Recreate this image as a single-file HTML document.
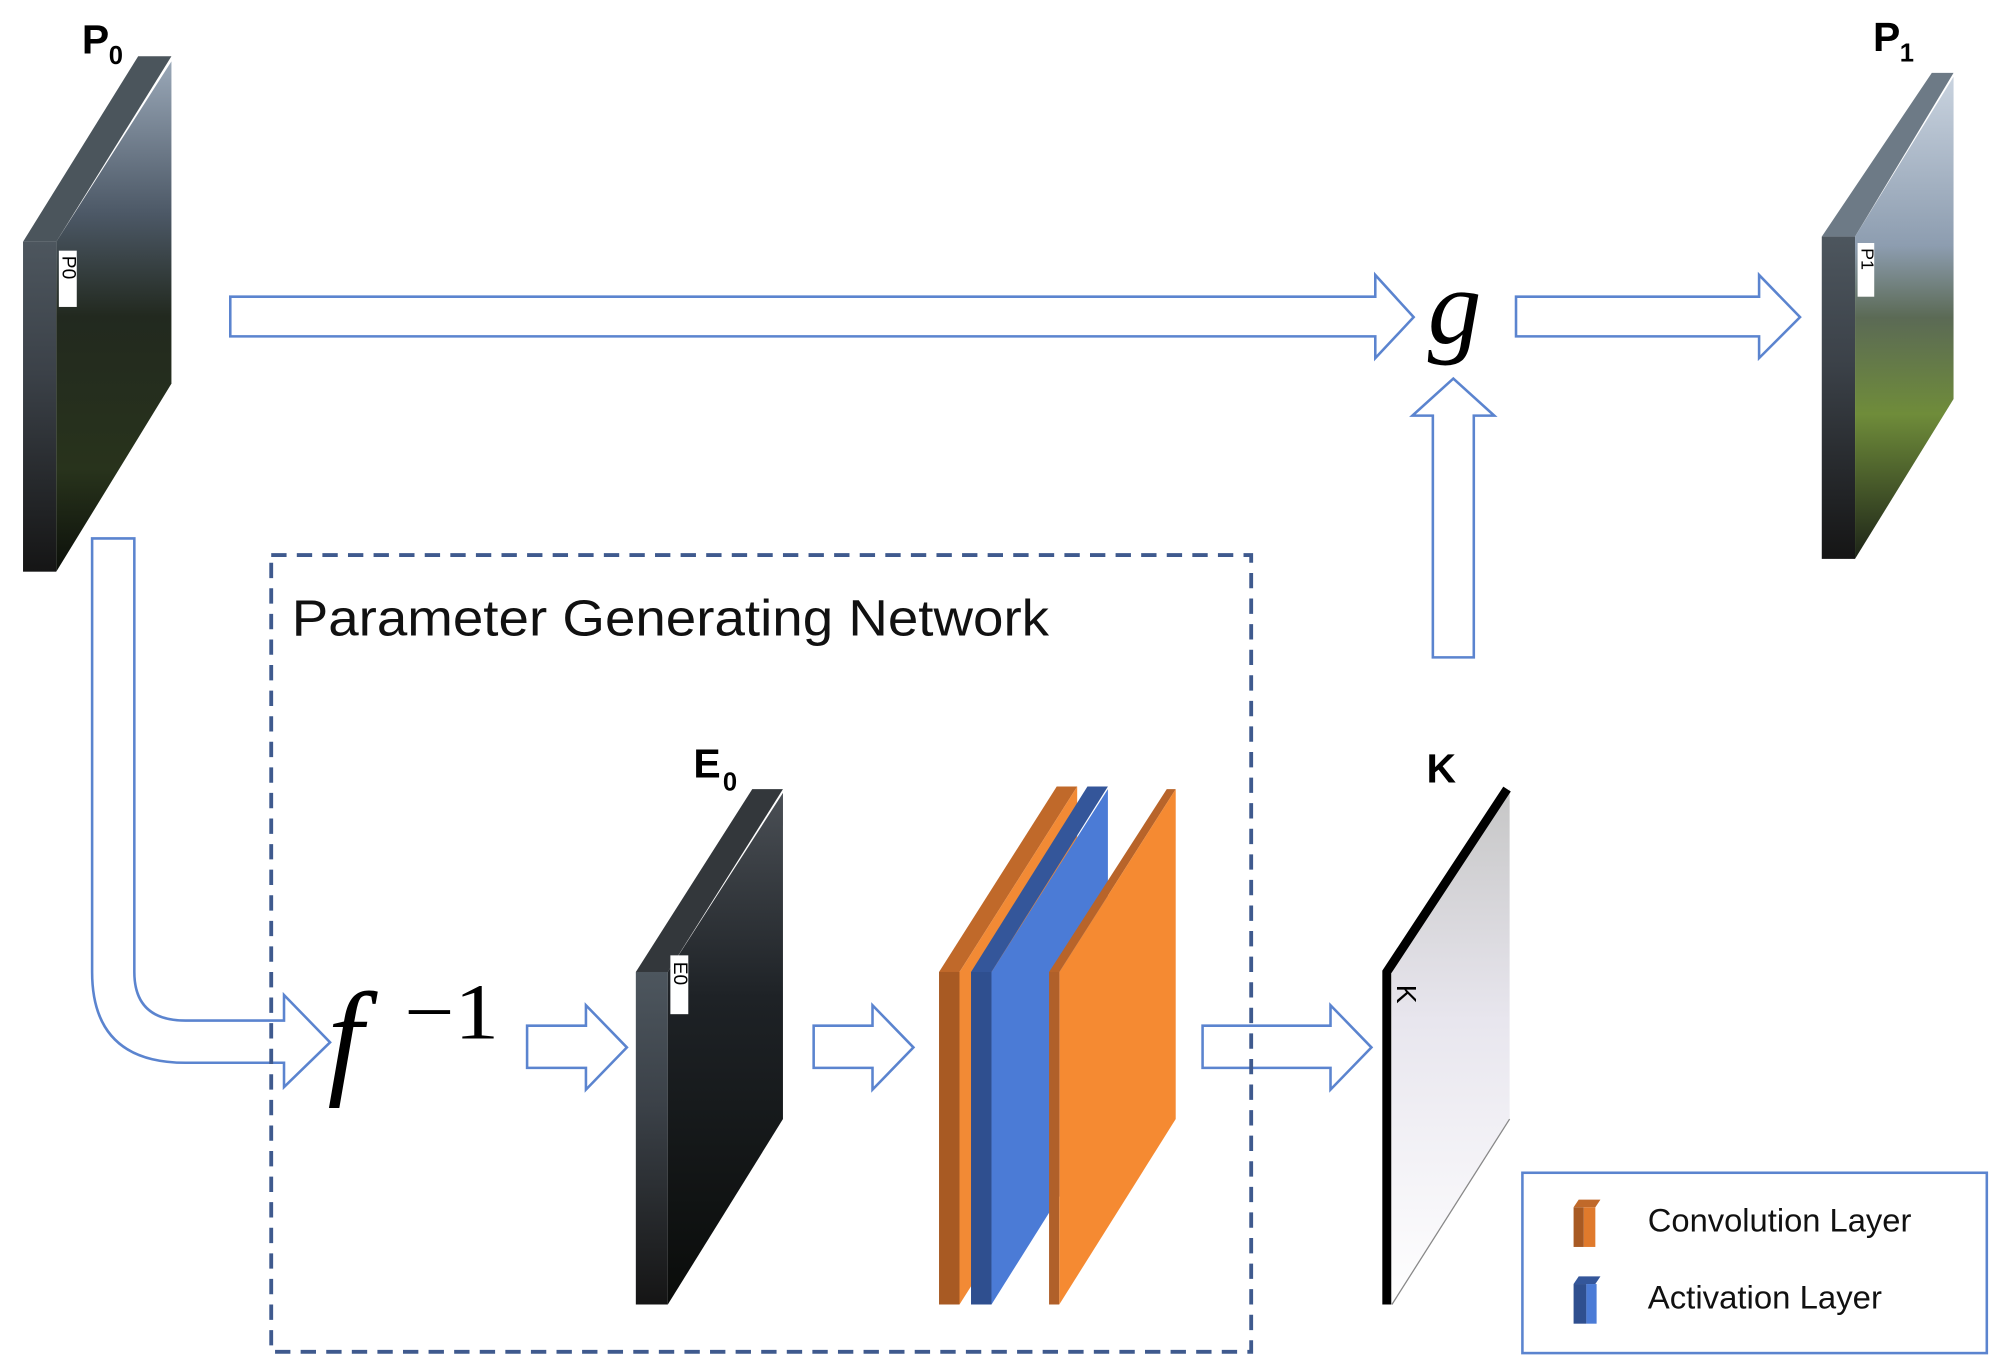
<!DOCTYPE html>
<html><head><meta charset="utf-8"><style>
html,body{margin:0;padding:0;background:#fff;}
svg{display:block}
</style></head><body>
<svg width="2006" height="1371" viewBox="0 0 1568 1072" preserveAspectRatio="none" xmlns="http://www.w3.org/2000/svg">
<defs>
<linearGradient id="p0face" x1="0" y1="0" x2="0" y2="1">
<stop offset="0" stop-color="#9aa8b8"/><stop offset="0.3" stop-color="#4c5866"/><stop offset="0.5" stop-color="#22291f"/><stop offset="0.8" stop-color="#28331c"/><stop offset="1" stop-color="#0c100a"/></linearGradient>
<linearGradient id="p1face" x1="0" y1="0" x2="0" y2="1">
<stop offset="0" stop-color="#c9d3df"/><stop offset="0.35" stop-color="#8d9db0"/><stop offset="0.5" stop-color="#5b6a55"/><stop offset="0.7" stop-color="#6f8c3a"/><stop offset="1" stop-color="#1d2418"/></linearGradient>
<linearGradient id="edge" x1="0" y1="0" x2="0" y2="1">
<stop offset="0" stop-color="#4d565e"/><stop offset="0.4" stop-color="#3b4148"/><stop offset="1" stop-color="#151515"/></linearGradient>
<linearGradient id="e0face" x1="0" y1="0" x2="0" y2="1">
<stop offset="0" stop-color="#4a4f55"/><stop offset="0.4" stop-color="#1e2226"/><stop offset="1" stop-color="#0a0c0a"/></linearGradient>
<linearGradient id="kface" x1="0" y1="0" x2="0" y2="1">
<stop offset="0" stop-color="#c6c6c6"/><stop offset="0.45" stop-color="#e8e6ee"/><stop offset="1" stop-color="#ffffff"/></linearGradient>
</defs>
<g font-family="Liberation Sans, sans-serif">

<!-- P0 slab -->
<polygon points="18,189 108,44 134,44 44,189" fill="#4b555c"/>
<rect x="18" y="189" width="26" height="258" fill="url(#edge)"/>
<polygon points="44,189 134,48 134,300 44,447" fill="url(#p0face)"/>
<rect x="46" y="196" width="14" height="44" fill="#fff"/>
<text font-size="15" transform="translate(49,200) rotate(90)" fill="#000">P0</text>
<text x="64" y="42" font-size="32" font-weight="bold">P</text><text x="85" y="50" font-size="20" font-weight="bold">0</text>

<!-- P1 slab -->
<polygon points="1424,185 1510,57 1527,57 1450,185" fill="#6d7a86"/>
<rect x="1424" y="185" width="26" height="252" fill="url(#edge)"/>
<polygon points="1450,185 1527,60 1527,312 1450,437" fill="url(#p1face)"/>
<rect x="1452" y="190" width="13" height="42" fill="#fff"/>
<text font-size="14" transform="translate(1455,194) rotate(90)" fill="#000">P1</text>
<text x="1464" y="40" font-size="32" font-weight="bold">P</text><text x="1485" y="48" font-size="20" font-weight="bold">1</text>

<!-- arrows -->
<g fill="#fff" stroke="#5b84cf" stroke-width="2" stroke-linejoin="miter">
<polygon points="180,232 1075,232 1075,215 1105,248 1075,280 1075,263 180,263"/>
<polygon points="1185,232 1375,232 1375,215 1407,248 1375,280 1375,263 1185,263"/>
<polygon points="1120,514 1120,325 1104,325 1136,296 1168,325 1152,325 1152,514"/>
<path d="M72,421 L105,421 L105,760 Q105,798 145,798 L222,798 L222,778 L258,815 L222,850 L222,831 L145,831 Q72,831 72,760 Z"/>
<polygon points="412,802 458,802 458,786 490,819 458,852 458,835 412,835"/>
<polygon points="636,802 682,802 682,786 714,819 682,852 682,835 636,835"/>
<polygon points="940,802 1040,802 1040,786 1072,819 1040,852 1040,835 940,835"/>
</g>

<!-- g -->
<text x="1116" y="268" font-family="Liberation Serif, serif" font-style="italic" font-size="84">g</text>

<!-- dashed box -->
<rect x="212" y="434" width="766" height="623" fill="none" stroke="#3f5a8e" stroke-width="3" stroke-dasharray="12,8"/>
<text x="228" y="497" font-size="40" fill="#111" textLength="592" lengthAdjust="spacingAndGlyphs">Parameter Generating Network</text>

<!-- f^-1 -->
<text x="256" y="845" font-family="Liberation Serif, serif" font-style="italic" font-size="100">f</text>
<text x="316" y="812" font-family="Liberation Serif, serif" font-size="62" textLength="74" lengthAdjust="spacingAndGlyphs">−1</text>

<!-- E0 slab -->
<polygon points="497,760 588,617 612,617 522,760" fill="#33373b"/>
<rect x="497" y="760" width="25" height="260" fill="url(#edge)"/>
<polygon points="522,760 612,620 612,875 522,1020" fill="url(#e0face)"/>
<rect x="524" y="747" width="14" height="46" fill="#fff"/>
<text font-size="15" transform="translate(527,752) rotate(90)" fill="#000">E0</text>
<text x="542" y="608" font-size="32" font-weight="bold">E</text><text x="565" y="618" font-size="20" font-weight="bold">0</text>

<!-- conv stack -->
<polygon points="734,760 826,615 842,615 750,760" fill="#c0692a"/>
<rect x="734" y="760" width="16" height="260" fill="#a85a23"/>
<polygon points="750,760 842,615 842,875 750,1020" fill="#f28a35"/>
<polygon points="759,760 850,615 866,615 775,760" fill="#34569a"/>
<rect x="759" y="760" width="16" height="260" fill="#2f4f8f"/>
<polygon points="775,760 866,617 866,875 775,1020" fill="#4b7bd6"/>
<polygon points="820,760 912,617 919,617 828,760" fill="#b8642a"/>
<rect x="820" y="760" width="8" height="260" fill="#b0602a"/>
<polygon points="828,760 919,617 919,875 828,1020" fill="#f58a32"/>

<!-- K slab -->
<polygon points="1088,760 1180,617 1180,875 1088,1020" fill="url(#kface)"/>
<line x1="1088" y1="1020" x2="1180" y2="875" stroke="#888" stroke-width="1"/>
<polyline points="1084,1020 1084,760 1178,617" fill="none" stroke="#000" stroke-width="7"/>
<text font-size="22" transform="translate(1092,770) rotate(90)">K</text>
<text x="1115" y="612" font-size="32" font-weight="bold">K</text>

<!-- legend -->
<rect x="1190" y="917" width="363" height="141" fill="#fff" stroke="#5b84cf" stroke-width="2"/>
<polygon points="1230,944 1234,938 1251,938 1247,944" fill="#c0692a"/>
<rect x="1230" y="944" width="8" height="31" fill="#a85a23"/>
<rect x="1238" y="944" width="9" height="31" fill="#e07a2c"/>
<polygon points="1230,1004 1234,998 1251,998 1247,1004" fill="#34569a"/>
<rect x="1230" y="1004" width="10" height="31" fill="#2f4f8f"/>
<rect x="1240" y="1004" width="8" height="31" fill="#4b7bd6"/>
<text x="1288" y="963" font-size="25" fill="#111" textLength="206" lengthAdjust="spacingAndGlyphs">Convolution Layer</text>
<text x="1288" y="1023" font-size="25" fill="#111" textLength="183" lengthAdjust="spacingAndGlyphs">Activation Layer</text>
</g>
</svg>
</body></html>
